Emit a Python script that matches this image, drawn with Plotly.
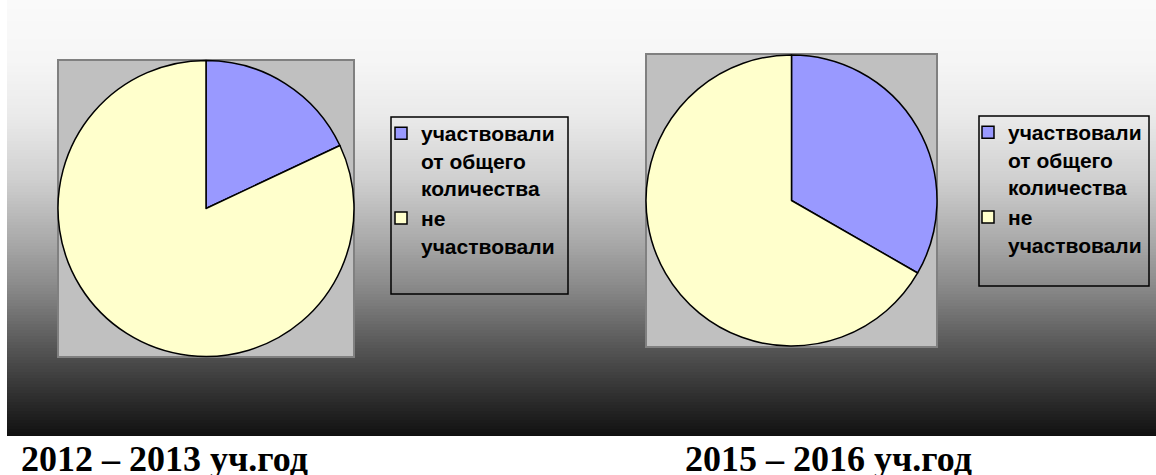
import plotly.graph_objects as go

# ---- data ----
labels = ["участвовали<br>от общего<br>количества", "не<br>участвовали"]
values_2012 = [18, 82]
values_2015 = [33.3, 66.7]
captions = ["2012 – 2013 уч.год", "2015 – 2016 уч.год"]
slice_colors = ["#9999ff", "#ffffcc"]

W, H = 1156, 475

def px(x):
    return x / W

def py(y):
    return 1 - y / H

fig = go.Figure()

fig.add_trace(go.Pie(
    labels=labels, values=values_2012, sort=False, direction="clockwise", rotation=0,
    marker=dict(colors=slice_colors, line=dict(color="black", width=1.5)),
    textinfo="none", hoverinfo="skip",
    domain=dict(x=[px(58), px(354)], y=[py(357), py(60)]),
    legend="legend", legendgroup="g2012",
))
fig.add_trace(go.Pie(
    labels=labels, values=values_2015, sort=False, direction="clockwise", rotation=0,
    marker=dict(colors=slice_colors, line=dict(color="black", width=1.5)),
    textinfo="none", hoverinfo="skip",
    domain=dict(x=[px(646), px(937)], y=[py(347), py(54)]),
    legend="legend2", legendgroup="g2015",
))

shapes = []
# gradient backgrounds
stops = [(0, 250), (60, 246), (120, 233), (180, 207), (240, 170), (290, 135),
         (340, 92), (390, 52), (436, 16)]

def grey_at(y):
    for (y0, v0), (y1, v1) in zip(stops[:-1], stops[1:]):
        if y0 <= y <= y1:
            return v0 + (v1 - v0) * (y - y0) / (y1 - y0)
    return stops[-1][1]

band = 3
for (x0, x1) in [(7, 595), (595, W)]:
    y = 0
    while y < 436:
        y2 = min(y + band, 436)
        g = int(round(grey_at((y + y2) / 2)))
        shapes.append(dict(type="rect", xref="paper", yref="paper",
                           x0=px(x0), x1=px(x1), y0=py(y2), y1=py(y),
                           fillcolor=f"rgb({g},{g},{g})", line=dict(width=0), layer="below"))
        y = y2

# grey plot areas
for (x0, y0, x1, y1) in [(58, 60, 354, 357), (646, 54, 937, 347)]:
    shapes.append(dict(type="rect", xref="paper", yref="paper",
                       x0=px(x0), x1=px(x1), y0=py(y1), y1=py(y0),
                       fillcolor="#c0c0c0", line=dict(color="#808080", width=2), layer="below"))

# legend boxes
for (x0, y0, x1, y1) in [(391, 117, 568, 294), (979, 116, 1149, 286)]:
    shapes.append(dict(type="rect", xref="paper", yref="paper",
                       x0=px(x0), x1=px(x1), y0=py(y1), y1=py(y0),
                       fillcolor="rgba(0,0,0,0)", line=dict(color="black", width=1.5)))

legend_font = dict(family="Arial, Liberation Sans, sans-serif", size=21, color="black", weight="bold")

fig.update_layout(
    width=W, height=H,
    margin=dict(l=0, r=0, t=0, b=0),
    paper_bgcolor="white",
    shapes=shapes,
    legend=dict(x=px(381), y=py(113), xanchor="left", yanchor="top",
                bgcolor="rgba(0,0,0,0)", borderwidth=0, font=legend_font,
                itemwidth=30, tracegroupgap=0, valign="top"),
    legend2=dict(x=px(968), y=py(112), xanchor="left", yanchor="top",
                 bgcolor="rgba(0,0,0,0)", borderwidth=0, font=legend_font,
                 itemwidth=30, tracegroupgap=0, valign="top"),
    annotations=[
        dict(text=captions[0], xref="paper", yref="paper", x=px(19), y=py(459),
             xanchor="left", yanchor="middle", showarrow=False,
             font=dict(family="Times New Roman, Liberation Serif, serif", size=36,
                       color="black", weight="bold")),
        dict(text=captions[1], xref="paper", yref="paper", x=px(683), y=py(459),
             xanchor="left", yanchor="middle", showarrow=False,
             font=dict(family="Times New Roman, Liberation Serif, serif", size=36,
                       color="black", weight="bold")),
    ],
)

fig.write_html("out.html", config={"displayModeBar": False},
               post_script="document.body.style.margin='0';document.body.style.overflow='hidden';")
